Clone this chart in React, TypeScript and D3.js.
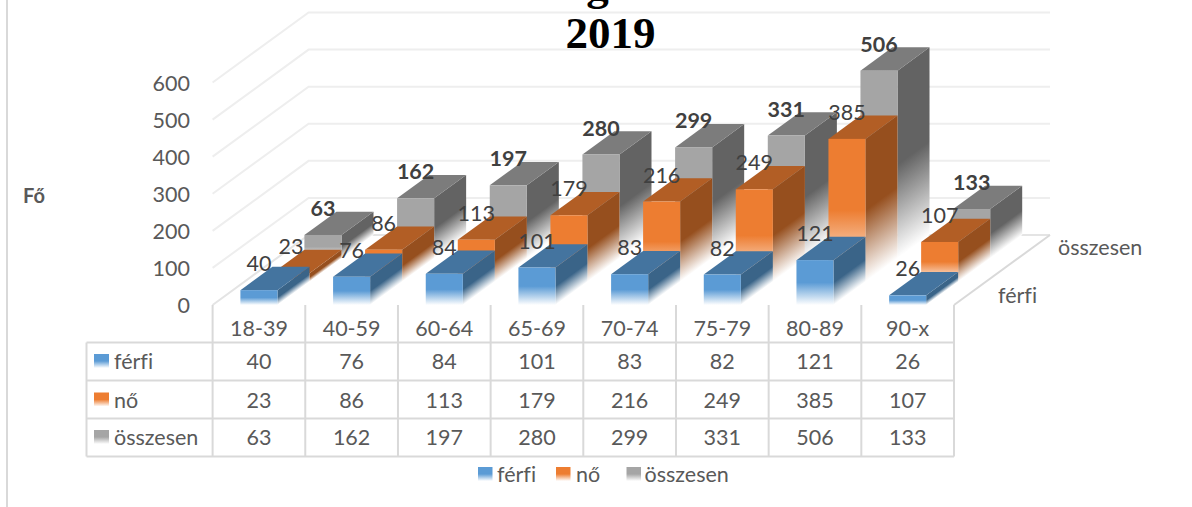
import React from "react";
import * as d3 from "d3";

const categories = ["18-39", "40-59", "60-64", "65-69", "70-74", "75-79", "80-89", "90-x"];
const ferfi = [40, 76, 84, 101, 83, 82, 121, 26];
const no = [23, 86, 113, 179, 216, 249, 385, 107];
const osszesen = [63, 162, 197, 280, 299, 331, 506, 133];
const seriesNames = ["férfi", "nő", "összesen"];
const seriesValues = [ferfi, no, osszesen];
const yTicks = [0, 100, 200, 300, 400, 500, 600];
const frontColors = ["#5B9BD5", "#ED7D31", "#A5A5A5"];
const topColors = ["#44749F", "#B25E25", "#7C7C7C"];
const sideColors = ["#3A6488", "#964F1E", "#636363"];

const x = d3.scaleBand<string>().domain(categories).range([212.6, 954]).paddingInner(0.6).paddingOuter(0.3);
const y = d3.scaleLinear().domain([0, 600]).range([305, 82.5]);
const depthX = d3.scaleLinear().domain([0, 3]).range([0, 96]);
const depthY = d3.scaleLinear().domain([0, 3]).range([0, -70]);
const GRID = "#EEEEEE";
const LINE = "#D9D9D9";
const TEXT = "#595959";
const FONT = "Lato, sans-serif";
const FS = 21.5;
const noLig = { fontVariantLigatures: "none" as const };
const rowY = [361, 399.5, 437];
const rowLines = [342.5, 380.5, 418.5, 456.5];
const step = x.step();
const colLines = d3.range(categories.length + 1).map((i) => 212.6 + i * step);
const legendPos = [
  { key: 478, text: 497 },
  { key: 556, text: 576 },
  { key: 626.5, text: 644.5 },
];

function poly(p: number[][]) {
  return p.map((q) => q.join(",")).join(" ");
}

function Bars() {
  const defs: React.ReactNode[] = [];
  const faces: React.ReactNode[] = [];
  const labels: React.ReactNode[] = [];
  [2, 1, 0].forEach((s) => {
    categories.forEach((c, i) => {
      const v = seriesValues[s][i];
      const x0 = x(c)! + depthX(s);
      const x1 = x0 + x.bandwidth();
      const by = 305 + depthY(s);
      const h = y(0) - y(v);
      const ty = by - h;
      const dx = depthX(1);
      const dy = depthY(1);
      const fadeStart = ty + h * 0.5;
      const frontId = `f${s}-${i}`;
      const sideId = `g${s}-${i}`;
      // gradient along the normal of the depth direction, so the fade follows the slanted floor edge
      const nx = -dy;
      const ny = dx;
      const t = (h * 0.5 * ny) / (nx * nx + ny * ny);
      defs.push(
        <linearGradient key={frontId} id={frontId} gradientUnits="userSpaceOnUse" x1={0} x2={0} y1={fadeStart} y2={by}>
          <stop offset="0" stopColor={frontColors[s]} />
          <stop offset="1" stopColor="#ffffff" />
        </linearGradient>,
        <linearGradient key={sideId} id={sideId} gradientUnits="userSpaceOnUse" x1={x1} y1={fadeStart} x2={x1 + nx * t} y2={fadeStart + ny * t}>
          <stop offset="0" stopColor={sideColors[s]} />
          <stop offset="1" stopColor="#ffffff" />
        </linearGradient>
      );
      faces.push(
        <g key={`${s}-${i}`}>
          <polygon points={poly([[x1, ty], [x1 + dx, ty + dy], [x1 + dx, by + dy], [x1, by]])} fill={`url(#${sideId})`} />
          <polygon points={poly([[x0, ty], [x1, ty], [x1 + dx, ty + dy], [x0 + dx, ty + dy]])} fill={topColors[s]} />
          <rect x={x0} y={ty} width={x1 - x0} height={h} fill={`url(#${frontId})`} />
        </g>
      );
      labels.push(
        <text key={`l${s}-${i}`} x={(x0 + x1) / 2} y={ty - 27} textAnchor="middle" dominantBaseline="central"
          fontFamily={FONT} fontSize={FS} fontWeight={s === 2 ? 700 : 400} fill="#404040">{v}</text>
      );
    });
  });
  return (
    <g>
      <defs>{defs}</defs>
      {faces}
      {labels}
    </g>
  );
}

function keyGrad(i: number) {
  return (
    <linearGradient key={i} id={`k${i}`} x1="0" x2="0" y1="0" y2="1">
      <stop offset="0.5" stopColor={frontColors[i]} />
      <stop offset="1" stopColor="#ffffff" />
    </linearGradient>
  );
}

export default function App() {
  const txt = { fontFamily: FONT, fontSize: FS, fill: TEXT, dominantBaseline: "central" as const, style: noLig };
  const backX = 212.6 + depthX(3);
  const backR = 954 + depthX(3);
  const dyAll = depthY(3);
  return (
    <svg width={1192} height={507} style={{ position: "absolute", left: 0, top: 0, background: "#fff" }}>
      <defs>{frontColors.map((_, i) => keyGrad(i))}</defs>
      <line x1={7} x2={7} y1={0} y2={507} stroke={LINE} strokeWidth={2} />
      {yTicks.map((t) => (
        <g key={t}>
          <polyline points={poly([[212.6, y(t)], [backX, y(t) + dyAll], [backR, y(t) + dyAll]])} fill="none" stroke={t === 0 ? "#E4E4E4" : GRID} strokeWidth={2} />
          <text {...txt} x={190} y={y(t)} textAnchor="end">{t}</text>
        </g>
      ))}
      <line x1={954} y1={305} x2={backR} y2={305 + dyAll} stroke={LINE} strokeWidth={2} />
      <Bars />
      <text x={405} y={0} fontFamily="'Liberation Serif', serif" fontWeight={700} fontSize={45} fill="#000">A lakosság kor szerint</text>
      <text x={610.5} y={48} textAnchor="middle" fontFamily="'Liberation Serif', serif" fontWeight={700} fontSize={45} fill="#000">2019</text>
      <text x={23} y={195} fontFamily={FONT} fontSize={20} fontWeight={700} fill={TEXT} dominantBaseline="central">Fő</text>
      {colLines.map((cx) => (
        <line key={cx} x1={cx} x2={cx} y1={305} y2={456.5} stroke={LINE} strokeWidth={2} />
      ))}
      <line x1={86.5} x2={86.5} y1={342.5} y2={456.5} stroke={LINE} strokeWidth={2} />
      {rowLines.map((ry) => (
        <line key={ry} x1={86.5} x2={954} y1={ry} y2={ry} stroke={LINE} strokeWidth={2} />
      ))}
      {categories.map((c, i) => (
        <text {...txt} key={c} x={colLines[i] + step / 2} y={328} textAnchor="middle">{c}</text>
      ))}
      {seriesNames.map((n, s) => (
        <g key={n}>
          <rect x={94} y={rowY[s] - 7} width={15} height={14} fill={`url(#k${s})`} />
          <text {...txt} x={114} y={rowY[s]}>{n}</text>
          {seriesValues[s].map((v, i) => (
            <text {...txt} key={i} x={colLines[i] + step / 2} y={rowY[s]} textAnchor="middle">{v}</text>
          ))}
          <rect x={legendPos[s].key} y={467} width={14.5} height={14} fill={`url(#k${s})`} />
          <text {...txt} x={legendPos[s].text} y={474}>{n}</text>
        </g>
      ))}
      <text {...txt} x={1058} y={247}>összesen</text>
      <text {...txt} x={998} y={295}>férfi</text>
    </svg>
  );
}
